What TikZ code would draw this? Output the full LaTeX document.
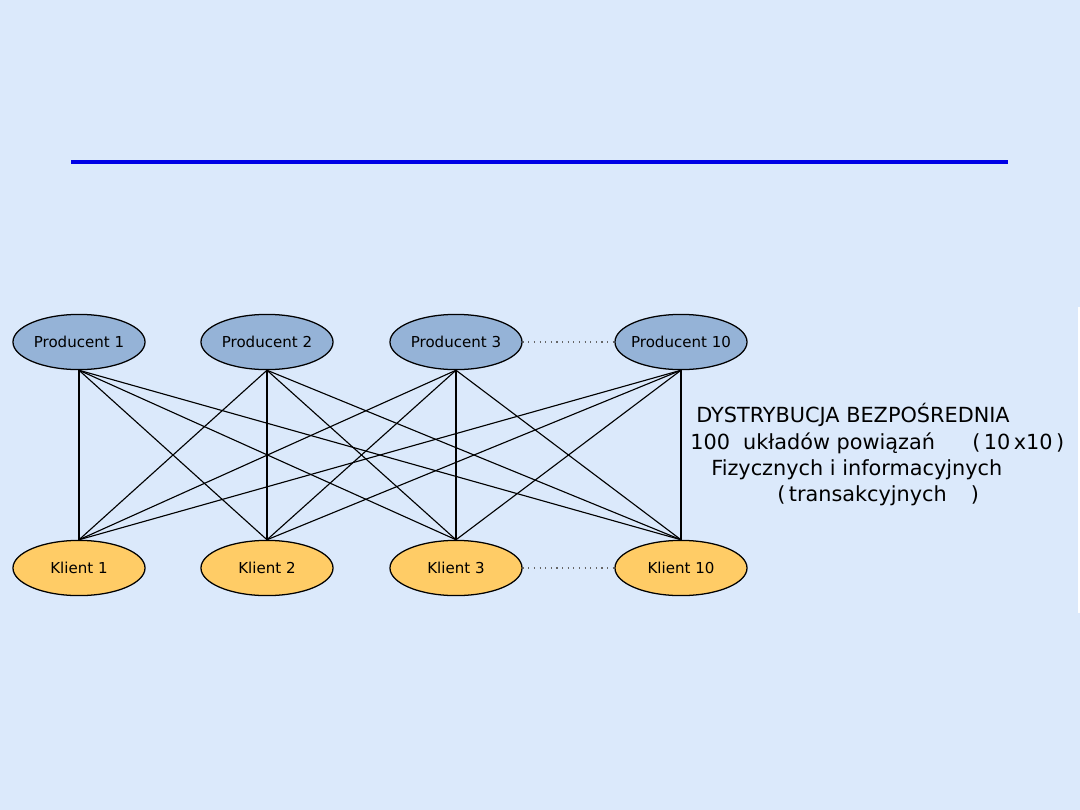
\documentclass[tikz,border=0pt]{standalone}
\usepackage{fontspec}
\setmainfont{DejaVu Sans}
\usepackage{tikz}
\usetikzlibrary{shapes.geometric}
\definecolor{bgblue}{HTML}{DBE9FB}
\definecolor{prodfill}{HTML}{95B3D7}
\definecolor{klientfill}{HTML}{FFCC66}
\definecolor{ruleblue}{HTML}{0000E6}

\begin{document}
\begin{tikzpicture}[
  x=0.025cm, y=-0.025cm,
  prod/.style={ellipse, draw=black, line width=0.9pt, fill=prodfill, minimum width=3.3cm, minimum height=1.38cm, inner xsep=-4pt, inner ysep=0pt, font=\fontsize{10.7}{12}\selectfont},
  klient/.style={prod, fill=klientfill},
  lnk/.style={black, line width=0.8pt},
  dots/.style={black!60, line width=0.8pt, dash pattern=on 0.8pt off 3.2pt},
  opis/.style={anchor=base west, inner sep=0pt, font=\fontsize{14.8}{16}\selectfont}
]
% tlo
\fill[bgblue] (0,0) rectangle (1080,810);
\useasboundingbox (0,0) rectangle (1080,810);
\fill[white] (1078,307) rectangle (1080,613);
% linia tytulowa
\draw[ruleblue, line width=2.2pt] (71,162) -- (1008,162);
% producenci
\node[prod] (p1) at (79,342) {Producent 1};
\node[prod] (p2) at (267,342) {Producent 2};
\node[prod] (p3) at (456,342) {Producent 3};
\node[prod] (p10) at (681,342) {Producent 10};
\draw[dots] (p3) -- (p10);
% klienci
\node[klient] (k1) at (79,568) {Klient 1};
\node[klient] (k2) at (267,568) {Klient 2};
\node[klient] (k3) at (456,568) {Klient 3};
\node[klient] (k10) at (681,568) {Klient 10};
\draw[dots] (k3) -- (k10);
% powiazania 10x10
\draw[lnk] (p1.south)--(k1.north); \draw[lnk] (p1.south)--(k2.north);
\draw[lnk] (p1.south)--(k3.north); \draw[lnk] (p1.south)--(k10.north);
\draw[lnk] (p2.south)--(k1.north); \draw[lnk] (p2.south)--(k2.north);
\draw[lnk] (p2.south)--(k3.north); \draw[lnk] (p2.south)--(k10.north);
\draw[lnk] (p3.south)--(k1.north); \draw[lnk] (p3.south)--(k2.north);
\draw[lnk] (p3.south)--(k3.north); \draw[lnk] (p3.south)--(k10.north);
\draw[lnk] (p10.south)--(k1.north); \draw[lnk] (p10.south)--(k2.north);
\draw[lnk] (p10.south)--(k3.north); \draw[lnk] (p10.south)--(k10.north);
% opis
\node[opis] (d1) at (696,422) {DYSTRYBUCJA BEZPOŚREDNIA};
\node[opis] (d2) at (690,449) {100~ układów powiązań};
\node[opis] (d3) at (972,449) {(\,10\,x10\,)};
\node[opis] (d4) at (711,475) {Fizycznych i informacyjnych};
\node[opis] (d5) at (777,501) {(\,transakcyjnych\hspace{17pt})};
\end{tikzpicture}
\end{document}
